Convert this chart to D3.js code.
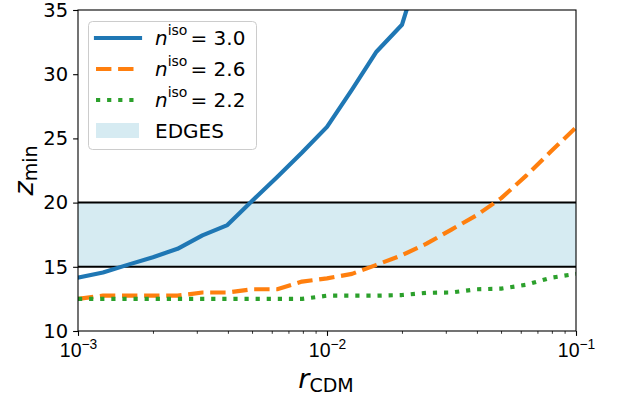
<!DOCTYPE html>
<html lang="en">
<head>
    <meta charset="UTF-8">
    <title>z_min vs r_CDM</title>
    <script src="https://d3js.org/d3.v7.min.js"></script>
    <style>
        body { margin: 0; background: #fff; }
        svg { font-family: "DejaVu Sans", sans-serif; }
    </style>
</head>
<body>
    <div id="chart"></div>
    <script>
        // r_CDM sample points (0.1 dex spacing)
        const rValues = [0.001, 0.00126, 0.00158, 0.002, 0.00251, 0.00316, 0.00398, 0.00501, 0.00631, 0.00794,
                         0.01, 0.0126, 0.0158, 0.02, 0.0251, 0.0316, 0.0398, 0.0501, 0.0631, 0.0794, 0.1];
        // z_min for each n_iso
        const zIso30 = [14.15, 14.55, 15.15, 15.75, 16.4, 17.45, 18.25, 20.15, 22.0, 23.9, 25.9, 28.8, 31.75, 33.85, 40];
        const zIso26 = [12.5, 12.75, 12.75, 12.75, 12.75, 13.0, 13.0, 13.25, 13.25, 13.85, 14.1, 14.45, 15.15, 15.9,
                        16.8, 17.9, 19.0, 20.35, 22.1, 24.0, 25.85];
        const zIso22 = [12.5, 12.5, 12.5, 12.5, 12.5, 12.5, 12.5, 12.5, 12.5, 12.5, 12.75, 12.75, 12.75, 12.8,
                        12.97, 13.0, 13.25, 13.3, 13.6, 14.15, 14.45];
        const seriesNames = ["3.0", "2.6", "2.2"];
        const edgesBand = [15, 20];
        const yTicks = [10, 15, 20, 25, 30, 35];
        const xMajorTicks = [1e-3, 1e-2, 1e-1];
        const xTickExp = ["\u22123", "\u22122", "\u22121"];

        const W = 620, H = 402;
        const margin = { top: 10, right: 44, bottom: 71, left: 78 };

        const svg = d3.select("#chart").append("svg")
            .attr("width", W).attr("height", H);

        const x = d3.scaleLog().domain([1e-3, 1e-1]).range([margin.left, W - margin.right]);
        const y = d3.scaleLinear().domain([10, 35]).range([H - margin.bottom, margin.top]);

        svg.append("clipPath").attr("id", "plotclip")
            .append("rect")
            .attr("x", x.range()[0]).attr("y", y.range()[1])
            .attr("width", x.range()[1] - x.range()[0])
            .attr("height", y.range()[0] - y.range()[1]);

        const plot = svg.append("g").attr("clip-path", "url(#plotclip)");

        // EDGES band
        plot.append("rect")
            .attr("x", x.range()[0])
            .attr("width", x.range()[1] - x.range()[0])
            .attr("y", y(edgesBand[1]))
            .attr("height", y(edgesBand[0]) - y(edgesBand[1]))
            .attr("fill", "#add8e6").attr("fill-opacity", 0.5);

        edgesBand.forEach(v => {
            plot.append("line")
                .attr("x1", x.range()[0]).attr("x2", x.range()[1])
                .attr("y1", y(v)).attr("y2", y(v))
                .attr("stroke", "#000").attr("stroke-width", 2);
        });

        const series = [
            { vals: zIso30, color: "#1f77b4", dash: null },
            { vals: zIso26, color: "#ff7f0e", dash: "15.4,6.7" },
            { vals: zIso22, color: "#2ca02c", dash: "4.2,6.9" }
        ];

        const line = d3.line()
            .x(d => x(d[0]))
            .y(d => y(d[1]));

        series.forEach(s => {
            const pts = s.vals.map((v, i) => [rValues[i], v]);
            plot.append("path")
                .datum(pts)
                .attr("d", line)
                .attr("fill", "none")
                .attr("stroke", s.color)
                .attr("stroke-width", 4.17)
                .attr("stroke-linejoin", "round")
                .attr("stroke-linecap", s.dash ? "butt" : "square")
                .attr("stroke-dasharray", s.dash);
        });

        // axes
        const xAxis = svg.append("g")
            .attr("transform", `translate(0,${y.range()[0]})`)
            .call(d3.axisBottom(x).tickValues(xMajorTicks).tickSize(4.9).tickPadding(4).tickFormat(""));
        xAxis.select(".domain").remove();
        xAxis.selectAll(".tick line").attr("stroke-width", 1.1);
        xAxis.selectAll(".tick").append("text")
            .attr("y", 26).attr("fill", "#000")
            .attr("font-size", 19.5).attr("text-anchor", "middle")
            .each(function(d, i) {
                const t = d3.select(this);
                t.append("tspan").text("10");
                t.append("tspan").attr("font-size", 13.8).attr("dy", -8).text(xTickExp[i]);
            });
        // x minor ticks
        const minor = [];
        [1e-3, 1e-2].forEach(dec => { for (let k = 2; k <= 9; k++) minor.push(dec * k); });
        const xMinor = svg.append("g")
            .attr("transform", `translate(0,${y.range()[0]})`)
            .call(d3.axisBottom(x).tickValues(minor).tickSize(2.8).tickFormat(""));
        xMinor.select(".domain").remove();
        xMinor.selectAll(".tick line").attr("stroke-width", 0.8);

        const yAxis = svg.append("g")
            .attr("transform", `translate(${x.range()[0]},0)`)
            .call(d3.axisLeft(y).tickValues(yTicks).tickSize(4.9).tickPadding(5));
        yAxis.select(".domain").remove();
        yAxis.selectAll(".tick line").attr("stroke-width", 1.1);
        yAxis.selectAll(".tick text").attr("font-size", 19.5).attr("fill", "#000")
            .attr("font-family", "DejaVu Sans");

        // frame
        svg.append("rect")
            .attr("x", x.range()[0]).attr("y", y.range()[1])
            .attr("width", x.range()[1] - x.range()[0])
            .attr("height", y.range()[0] - y.range()[1])
            .attr("fill", "none").attr("stroke", "#000").attr("stroke-width", 1.1);

        // axis labels
        const xl = svg.append("text")
            .attr("x", 326).attr("y", 388)
            .attr("text-anchor", "middle").attr("font-size", 27);
        xl.append("tspan").attr("font-style", "italic").text("r");
        xl.append("tspan").attr("font-size", 19).attr("dy", 4).text("CDM");

        const yl = svg.append("text")
            .attr("transform", `translate(33,${(y.range()[0] + y.range()[1]) / 2}) rotate(-90)`)
            .attr("text-anchor", "middle").attr("font-size", 27);
        yl.append("tspan").attr("font-style", "italic").text("z");
        yl.append("tspan").attr("font-size", 19).attr("dy", 4).text("min");

        // legend
        const lg = svg.append("g");
        lg.append("rect")
            .attr("x", 88.5).attr("y", 21.5).attr("width", 168).attr("height", 128)
            .attr("rx", 4)
            .attr("fill", "#fff").attr("fill-opacity", 0.8)
            .attr("stroke", "#cccccc").attr("stroke-width", 1);

        const rowY = [38, 69, 100, 131];
        series.forEach((s, i) => {
            lg.append("line")
                .attr("x1", 96).attr("x2", 140)
                .attr("y1", rowY[i]).attr("y2", rowY[i])
                .attr("stroke", s.color).attr("stroke-width", 4.17)
                .attr("stroke-dasharray", s.dash)
                .attr("stroke-linecap", s.dash ? "butt" : "square");
            const t = lg.append("text")
                .attr("x", 155).attr("y", rowY[i] + 7).attr("font-size", 20);
            t.append("tspan").attr("font-style", "italic").text("n");
            t.append("tspan").attr("font-size", 14).attr("dy", -10).text("iso");
            t.append("tspan").attr("dy", 10).attr("dx", 3).text("= " + seriesNames[i]);
        });
        lg.append("rect")
            .attr("x", 96).attr("y", rowY[3] - 8).attr("width", 43).attr("height", 15)
            .attr("fill", "#add8e6").attr("fill-opacity", 0.5);
        lg.append("text")
            .attr("x", 155).attr("y", rowY[3] + 7).attr("font-size", 20)
            .text("EDGES");
    </script>
</body>
</html>
